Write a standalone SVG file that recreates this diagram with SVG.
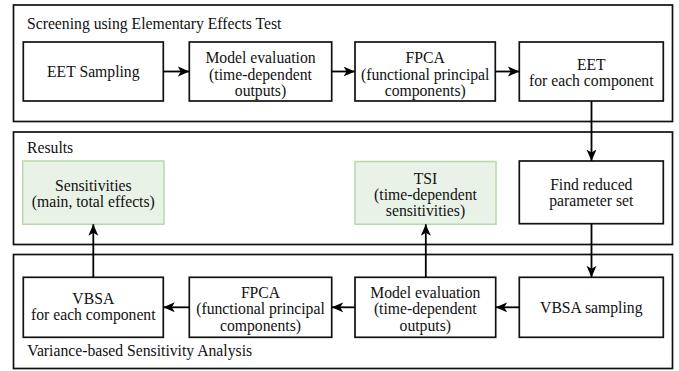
<svg xmlns="http://www.w3.org/2000/svg" width="679" height="371" viewBox="0 0 679 371">
<defs>
<marker id="arr" markerUnits="userSpaceOnUse" markerWidth="12" markerHeight="11" viewBox="0 0 12 11" refX="11.5" refY="5.5" orient="auto">
<path d="M0,0.5 L11.5,5.5 L0,10.5 L3,5.5 Z" fill="#000"/>
</marker>
<style>
.cont{fill:#fff;stroke:#111;stroke-width:1.7}
.box{fill:#fff;stroke:#111;stroke-width:1.7}
.res{fill:#e9f2e6;stroke:#b7d8aa;stroke-width:1.5}
text{font-family:'Liberation Serif','Times New Roman',Times,serif;font-size:15.7px;fill:#111}
.c{text-anchor:middle}
.edge{fill:none;stroke:#000;stroke-width:1.8;marker-end:url(#arr)}
</style>
</defs>
<g id="screening">
<rect class="cont" x="13.5" y="5" width="659" height="116.5"/>
<text x="27" y="28.5">Screening using Elementary Effects Test</text>
</g>
<g id="results">
<rect class="cont" x="13.5" y="132" width="659" height="112.5"/>
<text x="27" y="152.5">Results</text>
</g>
<g id="vbsa-container">
<rect class="cont" x="13.5" y="254.5" width="659" height="114"/>
<text x="27.3" y="356">Variance-based Sensitivity Analysis</text>
</g>
<g id="eet-sampling">
<rect class="box" x="23.3" y="42" width="140" height="59"/>
<text class="c" x="93.3" y="76.5">EET Sampling</text>
</g>
<g id="model-eval-1">
<rect class="box" x="189.3" y="42" width="142.4" height="59"/>
<text class="c" x="260.5" y="63.3">Model evaluation</text>
<text class="c" x="260.5" y="79.8">(time-dependent</text>
<text class="c" x="260.5" y="96.2">outputs)</text>
</g>
<g id="fpca-1">
<rect class="box" x="355" y="42" width="140.3" height="59"/>
<text class="c" x="425.2" y="63.3">FPCA</text>
<text class="c" x="425.2" y="79.8">(functional principal</text>
<text class="c" x="425.2" y="96.2">components)</text>
</g>
<g id="eet">
<rect class="box" x="519.3" y="42" width="144" height="59"/>
<text class="c" x="591.3" y="69.8">EET</text>
<text class="c" x="591.3" y="85.8">for each component</text>
</g>
<g id="sensitivities">
<rect class="res" x="22.7" y="161" width="141.3" height="63.3"/>
<text class="c" x="93.3" y="190.5">Sensitivities</text>
<text class="c" x="93.3" y="206.5">(main, total effects)</text>
</g>
<g id="tsi">
<rect class="res" x="355" y="161.5" width="141" height="62.8"/>
<text class="c" x="425.5" y="184">TSI</text>
<text class="c" x="425.5" y="200.3">(time-dependent</text>
<text class="c" x="425.5" y="216.3">sensitivities)</text>
</g>
<g id="find-reduced">
<rect class="box" x="519.3" y="161" width="144" height="62.7"/>
<text class="c" x="591.3" y="189.5">Find reduced</text>
<text class="c" x="591.3" y="205.5">parameter set</text>
</g>
<g id="vbsa-comp">
<rect class="box" x="23.3" y="277.3" width="140" height="60"/>
<text class="c" x="93.3" y="303.5">VBSA</text>
<text class="c" x="93.3" y="319.5">for each component</text>
</g>
<g id="fpca-2">
<rect class="box" x="189.3" y="277.3" width="142.4" height="60"/>
<text class="c" x="260.5" y="298">FPCA</text>
<text class="c" x="260.5" y="314.3">(functional principal</text>
<text class="c" x="260.5" y="330.5">components)</text>
</g>
<g id="model-eval-2">
<rect class="box" x="355" y="277.3" width="140.7" height="60"/>
<text class="c" x="425.3" y="298">Model evaluation</text>
<text class="c" x="425.3" y="314.3">(time-dependent</text>
<text class="c" x="425.3" y="330.5">outputs)</text>
</g>
<g id="vbsa-sampling">
<rect class="box" x="519.3" y="277.3" width="144" height="60"/>
<text class="c" x="591.3" y="313">VBSA sampling</text>
</g>
<g id="connectors">
<path class="edge" d="M163.3,71.5 H189.3"/>
<path class="edge" d="M331.7,71.5 H355"/>
<path class="edge" d="M495.3,71.5 H519.3"/>
<path class="edge" d="M591.5,101 V161"/>
<path class="edge" d="M591.5,223.7 V277.3"/>
<path class="edge" d="M519.3,307.3 H495.7"/>
<path class="edge" d="M355,307.3 H331.7"/>
<path class="edge" d="M189.3,307.3 H163.3"/>
<path class="edge" d="M93.3,277.3 V224.3"/>
<path class="edge" d="M425.8,277.3 V224.3"/>
</g>
</svg>
